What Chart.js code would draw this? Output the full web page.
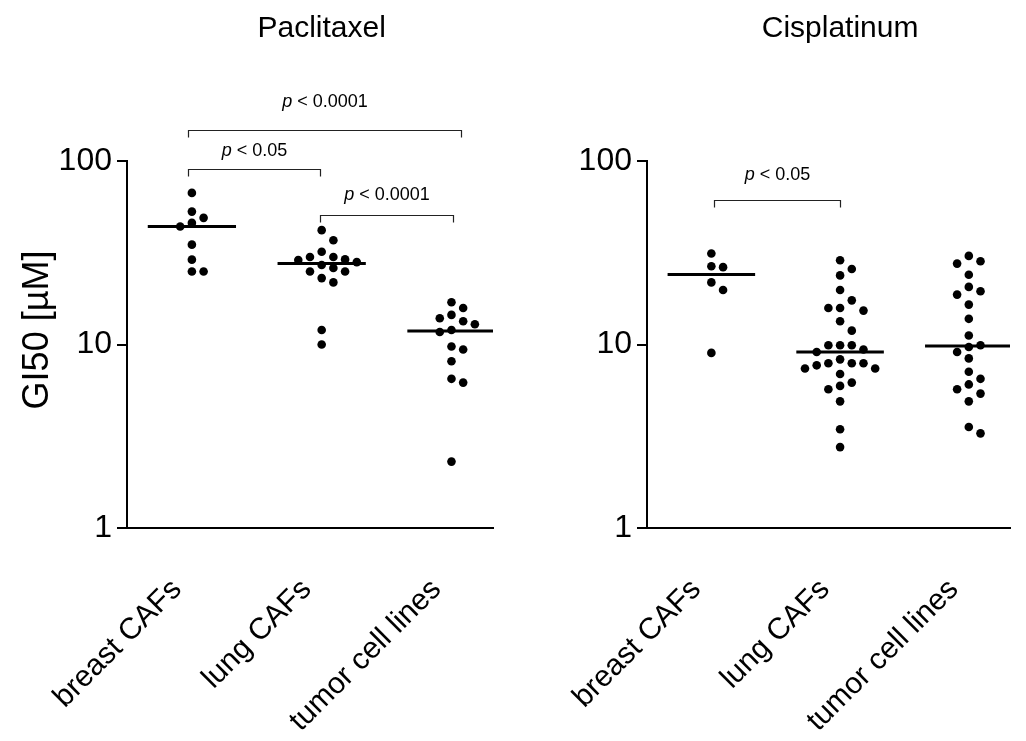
<!DOCTYPE html>
<html>
<head>
<meta charset="utf-8">
<title>GI50 Paclitaxel / Cisplatinum</title>
<script src="https://cdn.jsdelivr.net/npm/chart.js@4.4.1/dist/chart.umd.min.js"></script>
<style>
    body { margin: 0; background: #fff; width: 1026px; height: 741px; overflow: hidden; position: relative; }
    .panel { position: absolute; top: 0; width: 513px; height: 741px; }
    #leftPanel { left: 0; }
    #rightPanel { left: 513px; }
</style>
</head>
<body>
<div class="panel" id="leftPanel"><canvas id="paclitaxelChart" width="513" height="741"></canvas></div>
<div class="panel" id="rightPanel"><canvas id="cisplatinChart" width="513" height="741"></canvas></div>
<script>
const categories = ['breast CAFs', 'lung CAFs', 'tumor cell lines'];
const yTicks = [1, 10, 100];

// GI50 values (µM)
const paclitaxelBreast = [67, 53, 49, 46, 44, 35, 29, 25, 25];
const paclitaxelLung = [42, 37, 32, 30, 30, 29.1, 28.9, 28.1, 27.1, 26.1, 25, 25, 23, 21.8, 12, 10];
const paclitaxelTumor = [17, 15.8, 14.5, 13.9, 13.4, 12.9, 12, 11.7, 9.75, 9.4, 8.1, 6.5, 6.2, 2.3];

const cisplatinBreast = [31.3, 26.7, 26.4, 21.8, 19.8, 9];
const cisplatinLung = [28.8, 25.8, 23.8, 19.8, 17.4, 15.8, 15.8, 15.3, 13.4, 11.9, 9.9, 9.9, 9.9, 9.4, 9.1,
    8.3, 7.9, 7.9, 7.9, 7.7, 7.4, 7.4, 6.9, 6.2, 5.95, 5.7, 4.9, 3.45, 2.76];
const cisplatinTumor = [30.4, 28.4, 27.6, 24, 20.6, 19.5, 18.7, 16.5, 13.8, 11.2, 9.9, 9.7, 9.1, 8.4, 7.1,
    6.5, 6.06, 5.7, 5.4, 4.9, 3.55, 3.28];

// significance brackets: category span, bracket level and label level in µM
const paclitaxelBrackets = [
    { from: -0.03, to: 2.07, level: 147, textLevel: 209, text: '0.0001' },
    { from: -0.03, to: 0.99, level: 91, textLevel: 114, text: '0.05' },
    { from: 0.99, to: 2.01, level: 50.6, textLevel: 65, text: '0.0001' }
];
const cisplatinBrackets = [
    { from: 0.02, to: 1.0, level: 61, textLevel: 84, text: '0.05' }
];

const FONT = '"Liberation Sans", Arial, Helvetica, sans-serif';

function median(values) {
    const s = values.slice().sort((a, b) => a - b);
    const m = Math.floor(s.length / 2);
    return s.length % 2 ? s[m] : (s[m - 1] + s[m]) / 2;
}

function buildDatasets(groups) {
    const sets = [];
    groups.forEach((values, i) => {
        sets.push({
            type: 'scatter',
            data: values.map(v => ({ x: i, y: v })),
            backgroundColor: '#000',
            borderWidth: 0,
            pointRadius: 4.3,
            pointHoverRadius: 4.3
        });
    });
    groups.forEach((values, i) => {
        const med = median(values);
        sets.push({
            type: 'line',
            showLine: true,
            data: [{ x: i - 0.34, y: med }, { x: i + 0.34, y: med }],
            borderColor: '#000',
            borderWidth: 3,
            pointRadius: 0
        });
    });
    return sets;
}

// spread points sideways so they don't sit on top of each other
function swarm(chart) {
    const xs = chart.scales.x;
    const ys = chart.scales.y;
    const unit = xs.getPixelForValue(1) - xs.getPixelForValue(0);
    const step = 11.7;
    const gap = 11;
    chart.data.datasets.forEach((ds, i) => {
        if (ds.type !== 'scatter') return;
        const placed = [];
        const pts = ds.data.slice().sort((a, b) => b.y - a.y);
        pts.forEach(p => {
            const py = ys.getPixelForValue(p.y);
            let col = 0;
            for (let n = 0; n < 20; n++) {
                const k = n === 0 ? 0 : (n % 2 ? (n + 1) / 2 : -n / 2);
                const hit = placed.some(q => q.col === k && Math.abs(q.py - py) < gap);
                if (!hit) { col = k; break; }
            }
            placed.push({ col: col, py: py });
            p.x = i + col * step / unit;
        });
    });
    chart.update('none');
}

const annotate = {
    id: 'annotate',
    afterDraw(chart, args, opts) {
        const { ctx } = chart;
        const x = chart.scales.x;
        const y = chart.scales.y;
        ctx.save();
        ctx.fillStyle = '#000';
        ctx.font = '30px ' + FONT;
        ctx.textAlign = 'center';
        ctx.textBaseline = 'alphabetic';
        ctx.fillText(opts.title, x.getPixelForValue(1), 37);

        if (opts.yTitle) {
            ctx.save();
            ctx.translate(38, 330);
            ctx.rotate(-Math.PI / 2);
            ctx.font = '36px ' + FONT;
            ctx.textBaseline = 'middle';
            ctx.fillText(opts.yTitle, 0, 0);
            ctx.restore();
        }

        opts.brackets.forEach(b => {
            const x1 = Math.round(x.getPixelForValue(b.from)) + 0.5;
            const x2 = Math.round(x.getPixelForValue(b.to)) + 0.5;
            const yy = Math.round(y.getPixelForValue(b.level)) + 0.5;
            ctx.strokeStyle = '#222';
            ctx.lineWidth = 1.2;
            ctx.beginPath();
            ctx.moveTo(x1, yy + 7);
            ctx.lineTo(x1, yy);
            ctx.lineTo(x2, yy);
            ctx.lineTo(x2, yy + 7);
            ctx.stroke();

            const ty = y.getPixelForValue(b.textLevel);
            const rest = ' < ' + b.text;
            ctx.font = 'italic 18px ' + FONT;
            const wp = ctx.measureText('p').width;
            ctx.font = '18px ' + FONT;
            const wr = ctx.measureText(rest).width;
            const start = (x1 + x2) / 2 - (wp + wr) / 2;
            ctx.textAlign = 'left';
            ctx.textBaseline = 'middle';
            ctx.font = 'italic 18px ' + FONT;
            ctx.fillText('p', start, ty);
            ctx.font = '18px ' + FONT;
            ctx.fillText(rest, start + wp, ty);
        });
        ctx.restore();
    }
};

function makeChart(canvasId, title, groups, brackets, yWidth, padRight, yTitle) {
    const ctx = document.getElementById(canvasId).getContext('2d');
    const chart = new Chart(ctx, {
        type: 'scatter',
        data: { datasets: buildDatasets(groups) },
        options: {
            responsive: false,
            animation: false,
            layout: { padding: { top: 161, right: padRight, bottom: 0, left: 0 } },
            plugins: {
                legend: { display: false },
                tooltip: { enabled: false },
                annotate: { title: title, brackets: brackets, yTitle: yTitle }
            },
            scales: {
                x: {
                    type: 'linear',
                    min: -0.5,
                    max: 2.32,
                    grid: { display: false, drawTicks: false },
                    border: { display: true, color: '#000', width: 2 },
                    afterBuildTicks: scale => { scale.ticks = categories.map((c, i) => ({ value: i })); },
                    afterFit: scale => {
                        scale.height = 213;
                        scale.paddingLeft = 0;
                        scale.paddingRight = 0;
                    },
                    ticks: {
                        autoSkip: false,
                        maxRotation: 45,
                        minRotation: 45,
                        padding: 44,
                        labelOffset: -15,
                        color: '#000',
                        font: { family: FONT, size: 30 },
                        callback: v => categories[v]
                    }
                },
                y: {
                    type: 'logarithmic',
                    min: 1,
                    max: 100,
                    grid: { display: true, drawOnChartArea: false, drawTicks: true, tickLength: 10, color: '#000', lineWidth: 2 },
                    border: { display: true, color: '#000', width: 2 },
                    afterBuildTicks: scale => { scale.ticks = yTicks.map(v => ({ value: v })); },
                    afterFit: scale => { scale.width = yWidth; },
                    ticks: {
                        padding: 5,
                        color: '#000',
                        font: { family: FONT, size: 32 },
                        callback: v => String(v)
                    }
                }
            }
        },
        plugins: [annotate]
    });
    swarm(chart);
    return chart;
}

makeChart('paclitaxelChart', 'Paclitaxel',
    [paclitaxelBreast, paclitaxelLung, paclitaxelTumor], paclitaxelBrackets, 127, 20, 'GI50 [µM]');
makeChart('cisplatinChart', 'Cisplatinum',
    [cisplatinBreast, cisplatinLung, cisplatinTumor], cisplatinBrackets, 134, 16, null);
</script>
</body>
</html>
